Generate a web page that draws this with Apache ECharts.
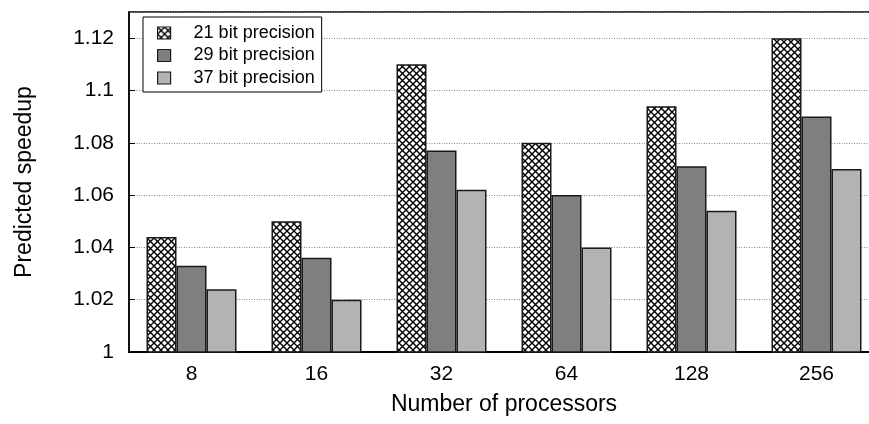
<!DOCTYPE html>
<html>
<head>
<meta charset="utf-8">
<script src="https://cdn.jsdelivr.net/npm/echarts@6/dist/echarts.min.js"></script>
<style>
html,body{margin:0;padding:0;background:#fff;}
#chart{width:869px;height:424px;}
</style>
</head>
<body>
<div id="chart"></div>
<script>
var categories = ['8', '16', '32', '64', '128', '256'];
var bits21 = [1.044, 1.050, 1.110, 1.080, 1.094, 1.120];
var bits29 = [1.033, 1.036, 1.077, 1.060, 1.071, 1.090];
var bits37 = [1.024, 1.020, 1.062, 1.040, 1.054, 1.070];
var seriesNames = ['21 bit precision', '29 bit precision', '37 bit precision'];
var yMin = 1, yMax = 1.13, yStep = 0.02;

function makeHatch() {
  var s = 7;
  var c = document.createElement('canvas');
  c.width = s; c.height = s;
  var g = c.getContext('2d');
  g.fillStyle = '#fff';
  g.fillRect(0, 0, s, s);
  g.strokeStyle = '#000';
  g.lineWidth = 1.4;
  g.beginPath();
  g.moveTo(-1, -1); g.lineTo(s + 1, s + 1);
  g.moveTo(s + 1, -1); g.lineTo(-1, s + 1);
  g.stroke();
  return { image: c, repeat: 'repeat' };
}

var chart = echarts.init(document.getElementById('chart'), null, { renderer: 'canvas' });
var FONT = 'Liberation Sans, Arial, Helvetica, sans-serif';
var border = { borderColor: '#1a1a1a', borderWidth: 1.5 };

chart.setOption({
  animation: false,
  backgroundColor: '#fff',
  textStyle: { fontFamily: FONT },
  grid: {
    left: 129, top: 12, width: 750, height: 340,
    containLabel: false,
    outerBoundsMode: 'none',
    show: true, borderColor: '#000', borderWidth: 1.5, backgroundColor: 'transparent'
  },
  legend: {
    orient: 'vertical',
    left: 143, top: 17,
    padding: [7, 7, 5, 14],
    itemGap: 4.5,
    itemWidth: 13, itemHeight: 12,
    icon: 'rect',
    backgroundColor: '#fff',
    borderColor: '#000', borderWidth: 1,
    borderRadius: 0,
    textStyle: { fontSize: 18, color: '#000', fontFamily: FONT, padding: [0, 0, 0, 18], lineHeight: 18 },
    itemStyle: { borderColor: '#1a1a1a', borderWidth: 1.2 },
    data: seriesNames
  },
  xAxis: {
    type: 'category',
    data: categories,
    name: 'Number of processors',
    nameLocation: 'middle',
    nameGap: 41,
    nameTextStyle: { fontSize: 23, color: '#000', fontFamily: FONT },
    axisLine: { lineStyle: { color: '#000', width: 2 } },
    axisTick: { show: false },
    axisLabel: { fontSize: 21, color: '#000', margin: 12, fontFamily: FONT },
    splitLine: { show: false }
  },
  yAxis: {
    type: 'value',
    min: yMin, max: yMax, interval: yStep,
    name: 'Predicted speedup',
    nameLocation: 'middle',
    nameRotate: 90,
    nameGap: 93,
    nameTextStyle: { fontSize: 23, color: '#000', fontFamily: FONT },
    axisLine: { show: true, lineStyle: { color: '#000', width: 1.5 } },
    axisTick: { show: true, inside: true, length: 6, lineStyle: { color: '#000', width: 1 } },
    axisLabel: { fontSize: 21, color: '#000', margin: 15, fontFamily: FONT, showMaxLabel: false,
      formatter: function (v) { return String(Math.round(v * 100) / 100); } },
    splitLine: { show: true, lineStyle: { color: '#8a8a8a', width: 1, type: [1, 1.5] } }
  },
  series: [
    { name: seriesNames[0], type: 'bar', data: bits21, barGap: '0%', barCategoryGap: '28%',
      itemStyle: Object.assign({ color: makeHatch() }, border) },
    { name: seriesNames[1], type: 'bar', data: bits29, barGap: '0%', barCategoryGap: '28%',
      itemStyle: Object.assign({ color: '#7f7f7f' }, border) },
    { name: seriesNames[2], type: 'bar', data: bits37, barGap: '0%', barCategoryGap: '28%',
      itemStyle: Object.assign({ color: '#b3b3b3' }, border) }
  ]
});
</script>
</body>
</html>
